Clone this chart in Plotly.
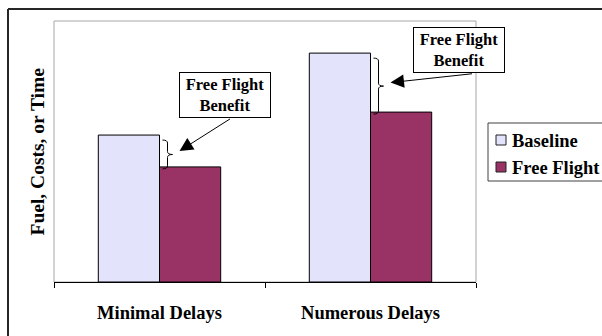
import plotly.graph_objects as go

# Chart data
categories = ["Minimal Delays", "Numerous Delays"]
series_names = ["Baseline", "Free Flight"]
baseline_values = [56.3, 87.7]
free_flight_values = [44.1, 65.1]
series_colors = ["#E3E3FB", "#993366"]
axis_title = "Fuel, Costs, or Time"
callout_text = "Free Flight<br>Benefit"

FONT = "Liberation Serif, Times New Roman, serif"

W, H = 602, 336
ML, MR, MT, MB = 54, 126, 21, 54
PW, PH = W - ML - MR, H - MT - MB
Y_MAX = 100.0


def px_x(px):
    """Pixel column -> paper x."""
    return (px - ML) / PW


def px_y(py):
    """Pixel row -> paper y."""
    return (H - MB - py) / PH


def dy(pixels):
    """Pixel height -> data units on the y axis."""
    return pixels / PH * Y_MAX


fig = go.Figure()
for name, vals, col in zip(series_names, [baseline_values, free_flight_values], series_colors):
    fig.add_trace(go.Bar(
        x=categories, y=vals, name=name,
        marker=dict(color=col, line=dict(color="black", width=1)),
        showlegend=False,
    ))

shapes = []
annotations = []

# plot-area frame (grey) and outer frame lines
shapes.append(dict(type="rect", xref="paper", yref="paper", x0=0, x1=1, y0=0, y1=1,
                   line=dict(color="#A6A6A6", width=1), layer="below"))
shapes.append(dict(type="line", xref="paper", yref="paper",
                   x0=px_x(8), x1=px_x(8), y0=px_y(9), y1=px_y(340),
                   line=dict(color="#262626", width=2)))
shapes.append(dict(type="line", xref="paper", yref="paper",
                   x0=px_x(8), x1=px_x(606), y0=px_y(9), y1=px_y(9),
                   line=dict(color="#262626", width=2)))

# braces, arrows and callout boxes showing the benefit per category
n = len(categories)
arrow_offsets = [(52, -33), (83, -9)]
box_centers = [(225, 95), (459, 50)]
for i, (b, f) in enumerate(zip(baseline_values, free_flight_values)):
    cx = (i + 0.5) / n
    x0 = cx + 3 / PW
    xm = x0 + 5 / PW
    x1 = x0 + 10 / PW
    ytop = b - dy(5)
    ybot = f - dy(2)
    ymid = (ytop + ybot) / 2
    d = dy(3)
    path = (f"M {x0},{ytop} Q {xm},{ytop} {xm},{ytop - d} "
            f"L {xm},{ymid + d} Q {xm},{ymid} {x1},{ymid} "
            f"Q {xm},{ymid} {xm},{ymid - d} "
            f"L {xm},{ybot + d} Q {xm},{ybot} {x0},{ybot}")
    shapes.append(dict(type="path", xref="paper", yref="y", path=path,
                       line=dict(color="black", width=1)))

    ax, ay = arrow_offsets[i]
    annotations.append(dict(
        xref="paper", yref="y", x=cx + 20 / PW, y=(b + f) / 2,
        text="", showarrow=True, ax=ax, ay=ay,
        arrowhead=2, arrowsize=2.7, arrowwidth=1, arrowcolor="black",
    ))
    bx, by = box_centers[i]
    annotations.append(dict(
        xref="paper", yref="paper", x=px_x(bx), y=px_y(by),
        xanchor="center", yanchor="middle", showarrow=False,
        text=callout_text, align="center",
        font=dict(family=FONT, size=16.5, color="black", weight="bold"),
        bgcolor="white", bordercolor="black", borderwidth=1,
        width=86, height=40, borderpad=2,
    ))

# y-axis title
annotations.append(dict(
    xref="paper", yref="paper", x=px_x(37), y=0.5,
    text=axis_title, textangle=-90, showarrow=False,
    xanchor="center", yanchor="middle",
    font=dict(family=FONT, size=19.5, color="black", weight="bold"),
))

# legend box
shapes.append(dict(type="rect", xref="paper", yref="paper",
                   x0=px_x(488), x1=px_x(603), y0=px_y(181), y1=px_y(123),
                   line=dict(color="#404040", width=1), fillcolor="white"))
legend_rows = [140, 167]
for name, col, ry in zip(series_names, series_colors, legend_rows):
    shapes.append(dict(type="rect", xref="paper", yref="paper",
                       x0=px_x(496), x1=px_x(506), y0=px_y(ry + 5), y1=px_y(ry - 5),
                       line=dict(color="#222222", width=1), fillcolor=col))
    annotations.append(dict(
        xref="paper", yref="paper", x=px_x(510), y=px_y(ry + 1),
        text=name, showarrow=False, xanchor="left", yanchor="middle",
        font=dict(family=FONT, size=18.5, color="black", weight="bold"),
    ))

fig.update_layout(
    width=W, height=H,
    margin=dict(l=ML, r=MR, t=MT, b=MB, pad=0),
    paper_bgcolor="white", plot_bgcolor="white",
    barmode="group", bargap=0.42, bargroupgap=0,
    showlegend=False,
    shapes=shapes, annotations=annotations,
    xaxis=dict(
        showline=True, linecolor="black", linewidth=1,
        ticks="outside", tickson="boundaries", ticklen=5, tickcolor="black",
        showgrid=False, zeroline=False,
        tickfont=dict(family=FONT, size=18.5, color="black", weight="bold"),
        ticklabelstandoff=14,
    ),
    yaxis=dict(
        range=[0, Y_MAX], showticklabels=False, showgrid=False,
        zeroline=False, showline=False, ticks="",
    ),
)

fig.write_html("out.html")
